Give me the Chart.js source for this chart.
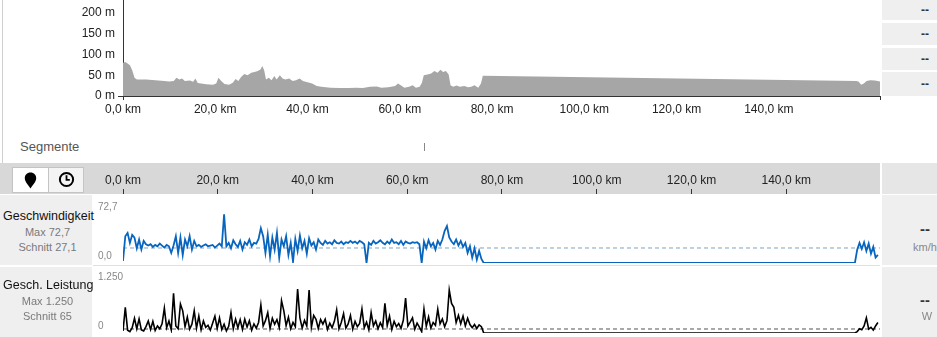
<!DOCTYPE html>
<html>
<head>
<meta charset="utf-8">
<script src="https://cdn.jsdelivr.net/npm/chart.js@4.4.1/dist/chart.umd.min.js"></script>
<style>
  body { margin: 0; width: 937px; height: 337px; overflow: hidden; background: #fff; position: relative;
         font-family: "Liberation Sans", Arial, sans-serif; }
  canvas { position: absolute; }
  .box { position: absolute; }
  .t { position: absolute; white-space: nowrap; }
  .gray { background: #efefef; }
  .dash { font-weight: bold; color: #333; text-align: center; width: 30px; left: 910px; }
  .lbl { font-size: 12.5px; line-height: 16px; color: #111; left: 3px; }
  .sub { font-size: 11px; line-height: 14px; color: #7a7a7a; left: 0; width: 95px; text-align: center; }
  .ax { font-size: 10px; line-height: 12px; color: #888; left: 98px; }
</style>
</head>
<body>

<!-- top area -->
<div class="box" style="left:2px;top:0;width:1px;height:163px;background:#d0d0d0"></div>
<div class="box gray" style="left:882px;top:0;width:55px;height:20px"></div>
<div class="box gray" style="left:882px;top:23px;width:55px;height:22px"></div>
<div class="box gray" style="left:882px;top:48px;width:55px;height:22px"></div>
<div class="box gray" style="left:882px;top:72px;width:55px;height:24px"></div>
<div class="t dash" style="top:3px;font-size:12px;line-height:14px">--</div>
<div class="t dash" style="top:27px;font-size:12px;line-height:14px">--</div>
<div class="t dash" style="top:52px;font-size:12px;line-height:14px">--</div>
<div class="t dash" style="top:77px;font-size:12px;line-height:14px">--</div>
<canvas id="elev" width="882" height="118" style="left:0;top:0"></canvas>

<div class="t" style="left:20px;top:139px;font-size:13px;line-height:16px;color:#555">Segmente</div>
<div class="box" style="left:424px;top:143px;width:1px;height:8px;background:#888"></div>

<!-- band with buttons and distance axis -->
<div class="box" style="left:0;top:163px;width:880px;height:31px;background:#d8d8d8"></div>
<div class="box" style="left:882px;top:163px;width:55px;height:31px;background:#e6e6e6"></div>
<div class="box" style="left:12px;top:167px;width:70px;height:24px;border:1px solid #c4c4c4;background:#fff"></div>
<div class="box" style="left:48px;top:168px;width:34px;height:24px;border-left:1px solid #c4c4c4;background:#f4f4f4"></div>
<svg class="box" style="left:24px;top:172px" width="13" height="17" viewBox="0 0 13 17">
  <path d="M6.5 0.5 C2.9 0.5 0.8 3.2 0.8 6.2 C0.8 10 5 13.5 6.5 16.5 C8 13.5 12.2 10 12.2 6.2 C12.2 3.2 10.1 0.5 6.5 0.5 Z" fill="#000"/>
</svg>
<svg class="box" style="left:58px;top:171px" width="17" height="17" viewBox="0 0 17 17">
  <circle cx="8.5" cy="8.5" r="6.6" fill="none" stroke="#000" stroke-width="2"/>
  <path d="M8.5 4.3 V8.8 H11.8" fill="none" stroke="#000" stroke-width="1.8"/>
</svg>
<canvas id="band" width="882" height="32" style="left:0;top:163px"></canvas>

<!-- speed row -->
<div class="box gray" style="left:0;top:195px;width:92px;height:70px"></div>
<div class="box gray" style="left:882px;top:195px;width:55px;height:70px"></div>
<div class="box" style="left:93px;top:265px;width:787px;height:1px;background:#e0e0e0"></div>
<div class="t lbl" style="top:208px">Geschwindigkeit</div>
<div class="t sub" style="top:225px">Max 72,7</div>
<div class="t sub" style="top:240px">Schnitt 27,1</div>
<canvas id="speed" width="787" height="69" style="left:93px;top:196px"></canvas>
<div class="t ax" style="top:201px">72,7</div>
<div class="t ax" style="top:250px">0,0</div>
<div class="t dash" style="top:221px;font-size:15px;line-height:16px">--</div>
<div class="t" style="left:913px;top:240px;font-size:11px;line-height:14px;color:#888">km/h</div>

<!-- power row -->
<div class="box gray" style="left:0;top:267px;width:92px;height:70px"></div>
<div class="box gray" style="left:882px;top:267px;width:55px;height:70px"></div>
<div class="t lbl" style="top:277px">Gesch. Leistung</div>
<div class="t sub" style="top:294px">Max 1.250</div>
<div class="t sub" style="top:309px">Schnitt 65</div>
<canvas id="power" width="787" height="66" style="left:93px;top:270px"></canvas>
<div class="t ax" style="top:271px">1.250</div>
<div class="t ax" style="top:320px">0</div>
<div class="t dash" style="top:292px;font-size:15px;line-height:16px">--</div>
<div class="t" style="left:912px;top:309px;width:30px;text-align:center;font-size:11px;line-height:14px;color:#888">W</div>

<script>
// elevation profile (km, m)
const elevKm = [0,0.5,1,1.5,2,2.5,3,5,7,9,10,11,11.6,12.2,12.8,13.4,14.5,15.2,15.7,16.2,18,19.5,20.2,20.7,21.3,22,
  23,23.8,24.4,25,25.6,26.3,27,27.8,28.5,29.2,29.8,30.2,30.6,31,31.6,32.2,32.8,33.3,34,34.6,35.2,36,
  36.8,37.5,38.3,39,40,41,42,43,45,47,49,50.5,52,53.5,55,56,57.5,59,59.6,60.3,61,62,62.8,63.5,
  64.3,64.8,65.2,66,66.8,67.5,68.2,68.8,69.4,70,70.6,71,71.6,72.3,73,74,74.8,75.5,76.2,77,77.6,78,
  159,159.5,160,160.6,161.2,162,163,164.1];
const elevM = [80,82,78,74,62,44,40,40,38,36,35,36,44,40,42,36,37,34,42,31,28,27,30,44,36,29,
  27,32,41,36,46,53,50,56,58,60,64,72,62,40,44,38,48,40,50,42,40,42,
  36,38,42,36,33,30,24,22,20,19,19,20,19,22,23,20,21,24,30,25,20,22,26,20,
  22,32,50,52,54,60,56,63,58,60,52,26,22,25,22,24,21,22,26,20,30,49,
  36,34,27,30,36,38,37,35];
const elevTicksM = [0, 50, 100, 150, 200];
const topTicksKm = [0, 20, 40, 60, 80, 100, 120, 140];
const topMaxKm = 164.1;
const lowerMaxKm = 159.8;

// sensor samples: two recorded parts, one sample every sampleKm
const sampleKm = 0.485;
const ride2StartKm = 154.5;
const speedRide1 = [3,40,45,30,42,
  38,22,35,20,33,28,
  26,28,24,27,25,29,26,23,27,25,15,26,
  40,15,38,12,35,25,40,20,33,
  25,27,24,26,28,25,26,27,23,26,29,25,
  72.7,25,
  30,22,34,28,24,33,20,31,27,35,25,30,29,36,
  52,40,
  15,42,10,38,20,45,8,35,25,40,12,30,2,36,18,41,22,33,14,37,26,31,20,35,
  30,27,33,29,31,28,34,30,29,32,28,31,30,33,
  30,32,29,33,31,28,0,30,27,33,29,31,34,30,28,32,29,35,30,31,28,33,27,32,30,29,31,30,
  31,28,0,32,22,34,25,30,20,33,27,35,
  48,55,38,
  32,28,35,26,33,24,30,
  15,25,8,22,5,18,6,0];
const speedRide2 = [0,20,30,21,31,18,29,14,24,8,12];
const powerRide1 = [60,727,80,40,150,416,120,400,90,60,180,340,100,330,70,200,120,260,707,150,
  340,90,1130,200,120,824,630,180,455,110,250,630,140,480,90,340,160,220,80,280,
  480,130,430,100,250,60,190,580,120,390,150,380,100,390,170,350,80,260,140,300,
  795,200,350,580,130,420,250,380,160,920,630,210,450,120,300,180,1250,430,140,360,
  200,1220,160,500,390,130,380,250,390,100,280,150,330,660,120,300,550,140,260,500,
  110,330,180,270,680,150,310,90,580,200,340,120,290,160,840,210,480,100,330,180,
  270,130,360,990,200,310,430,110,280,170,40,680,190,455,140,300,220,680,260,400,
  180,350,1220,840,730,300,500,260,480,200,420,240,150,240,130,230,180,0];
const powerRide2 = [0,40,120,90,200,430,110,160,80,200,300];
const speedRefKmh = 22.4;
const powerRefW = 114;

Chart.defaults.font.family = '"Liberation Sans", Arial, sans-serif';
Chart.defaults.font.size = 12;
Chart.defaults.color = '#222';

const kmLabel = v => v.toFixed(1).replace('.', ',') + ' km';
const noPad = s => { s.paddingLeft = 0; s.paddingRight = 0; s.paddingTop = 0; s.paddingBottom = 0; };
const base = {
  responsive: false, animation: false, events: [],
  plugins: { legend: { display: false }, tooltip: { enabled: false } }
};

function series(r1, r2) {
  return r1.map((v, i) => ({ x: i * sampleKm, y: v }))
    .concat(r2.map((v, i) => ({ x: ride2StartKm + i * sampleKm, y: v })));
}

// elevation
new Chart(document.getElementById('elev'), {
  type: 'line',
  data: { datasets: [{
    data: elevKm.map((k, i) => ({ x: k, y: elevM[i] })),
    fill: 'origin', backgroundColor: '#a6a6a6', borderWidth: 0, pointRadius: 0, tension: 0
  }] },
  options: Object.assign({}, base, {
    layout: { padding: { left: 0, right: 2, top: 0, bottom: 0 } },
    scales: {
      x: {
        type: 'linear', min: 0, max: topMaxKm,
        afterBuildTicks: s => { s.ticks = topTicksKm.concat([topMaxKm]).map(v => ({ value: v })); },
        afterFit: s => { s.height = 22; noPad(s); },
        ticks: { callback: v => v > 150 ? '' : kmLabel(v), padding: 2, maxRotation: 0, autoSkip: false },
        grid: { drawOnChartArea: false, tickLength: 4,
          color: c => (c.index === 0 || c.index === topTicksKm.length) ? '#333' : 'rgba(0,0,0,0)' },
        border: { color: '#333' }
      },
      y: {
        min: 0, max: 231,
        afterBuildTicks: s => { s.ticks = elevTicksM.map(v => ({ value: v })); },
        afterFit: s => { s.width = 123; noPad(s); },
        ticks: { callback: v => v + ' m', padding: 3 },
        grid: { drawOnChartArea: false, tickLength: 5, color: c => c.index === 0 ? '#333' : 'rgba(0,0,0,0)' },
        border: { color: '#333' }
      }
    }
  })
});

// distance axis in the grey band
new Chart(document.getElementById('band'), {
  type: 'line',
  data: { datasets: [{ data: [] }] },
  options: Object.assign({}, base, {
    layout: { padding: { left: 123, right: 2, top: 0, bottom: 0 } },
    scales: {
      x: {
        type: 'linear', position: 'top', min: 0, max: lowerMaxKm,
        afterBuildTicks: s => { s.ticks = topTicksKm.map(v => ({ value: v })); },
        afterFit: s => { s.height = 31; noPad(s); },
        ticks: { callback: v => kmLabel(v), padding: 1, maxRotation: 0, autoSkip: false },
        grid: { drawOnChartArea: false, tickLength: 5, color: '#333' },
        border: { display: false }
      },
      y: { display: false }
    }
  })
});

function lowerChart(id, r1, r2, ref, max, color, refColor, width, bottomPad) {
  new Chart(document.getElementById(id), {
    type: 'line',
    data: { datasets: [
      { data: series(r1, r2), borderColor: color, borderWidth: width, pointRadius: 0, tension: 0, fill: false, order: 1 },
      { data: [{ x: 0, y: ref }, { x: lowerMaxKm, y: ref }], borderColor: refColor, borderWidth: 1,
        borderDash: [4, 3], pointRadius: 0, fill: false, order: 2 }
    ] },
    options: Object.assign({}, base, {
      layout: { padding: { left: 30, right: 0, top: 0, bottom: bottomPad } },
      scales: {
        x: { type: 'linear', min: 0, max: lowerMaxKm, display: false },
        y: { min: 0, max: max, display: false }
      }
    })
  });
}

lowerChart('speed', speedRide1, speedRide2, speedRefKmh, 100, '#0765be', '#7fa3c4', 1.8, 2);
lowerChart('power', powerRide1, powerRide2, powerRefW, 1790, '#000', '#555', 1.6, 3);
</script>
</body>
</html>
